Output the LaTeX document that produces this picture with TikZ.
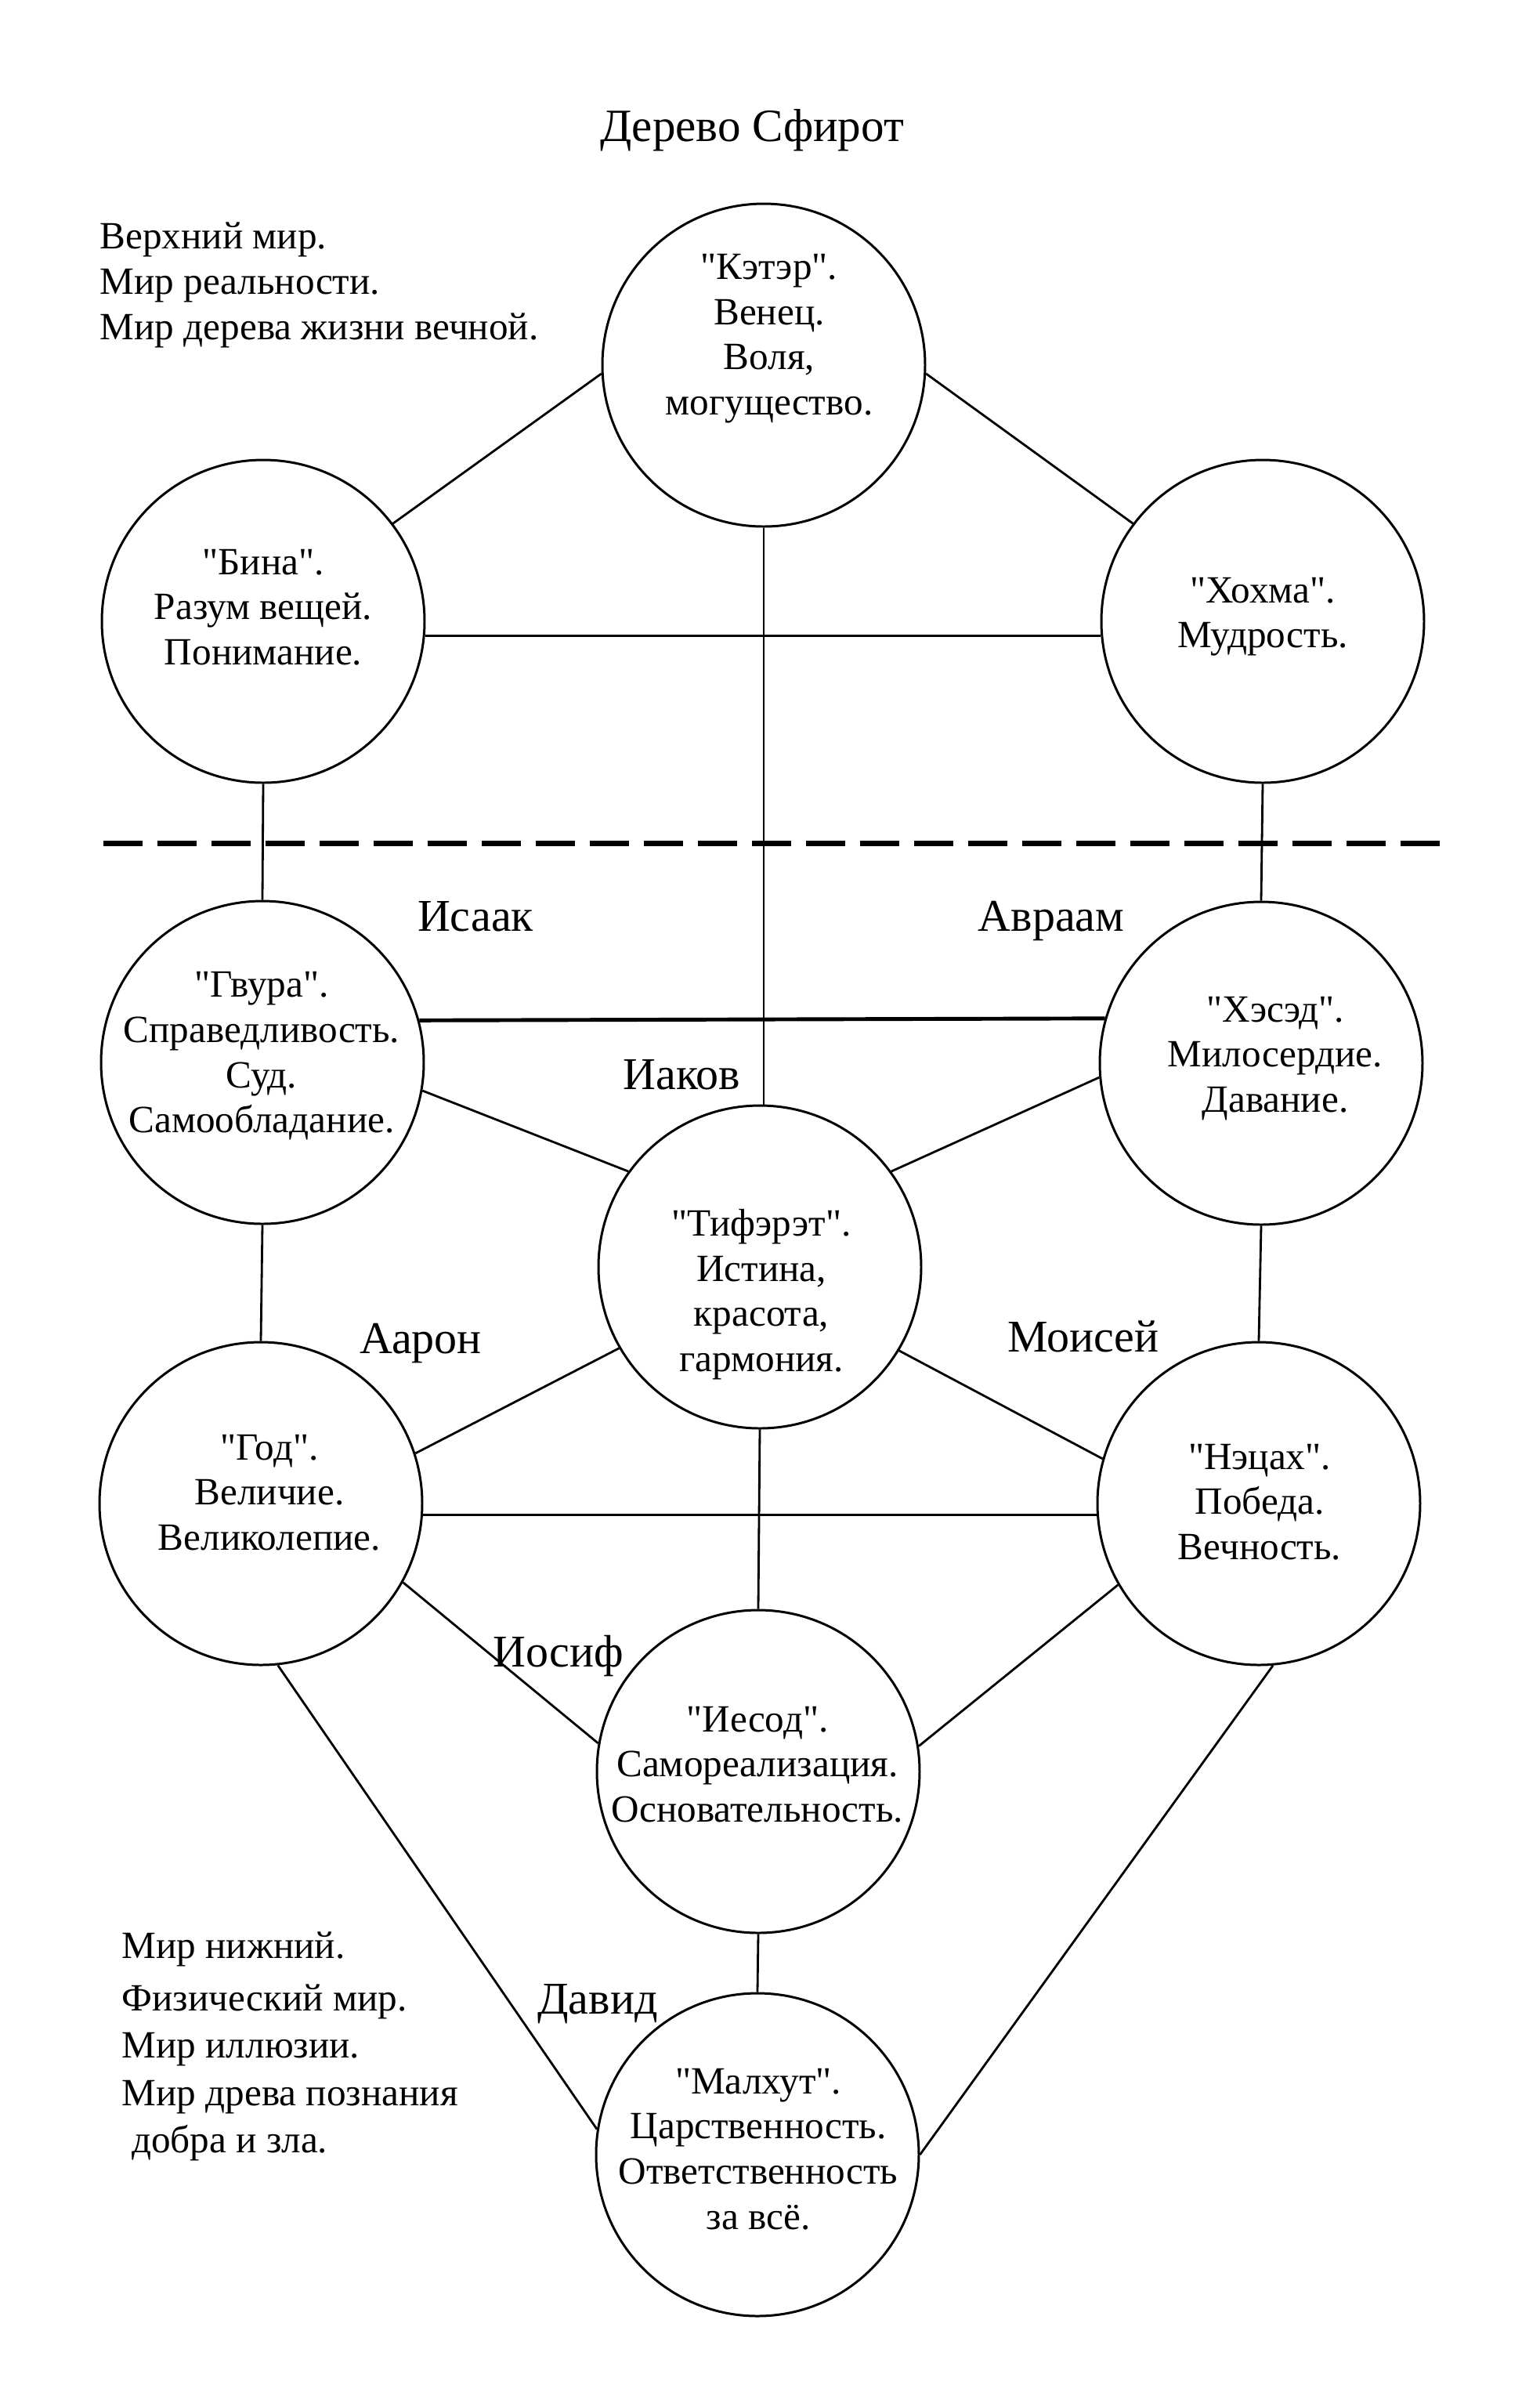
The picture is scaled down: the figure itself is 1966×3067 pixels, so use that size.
\documentclass[tikz,border=0pt]{standalone}
\usepackage{fontspec}
\setmainfont{Liberation Serif}[Ligatures=TeXOff]
\begin{document}
\begin{tikzpicture}[x=0.1mm,y=-0.1mm,
  sef/.style={circle, draw, line width=0.85pt, minimum size=41.2mm, inner sep=0pt},
  txt/.style={align=center, font=\fontsize{14}{16.4}\selectfont, inner sep=0pt},
  lefttxt/.style={align=left, anchor=west, font=\fontsize{14}{16.4}\selectfont, inner sep=0pt},
  pname/.style={font=\fontsize{16.5}{19}\selectfont, anchor=base, inner sep=0pt},
  conn/.style={line width=0.8pt},
  boldconn/.style={line width=1.4pt},
  divider/.style={line width=2pt, dash pattern=on 5mm off 1.9mm}]
\useasboundingbox (0,0) rectangle (1966,3067);

% title and side texts
\node[font=\fontsize{16.8}{20}\selectfont, inner sep=0pt] (title) at (960,166) {Дерево Сфирот};
\node[lefttxt] (upper) at (127,364) {Верхний мир.\\Мир реальности.\\Мир дерева жизни вечной.};
\node[lefttxt, font=\fontsize{14}{17.2}\selectfont] (lower) at (155,2612) {Мир нижний.\\[0.6mm]Физический мир.\\Мир иллюзии.\\Мир древа познания\\\ добра и зла.};

% sefirot circles
\node[sef] (keter)  at (975,466)  {};
\node[sef] (bina)   at (336,793)  {};
\node[sef] (hochma) at (1612,793) {};
\node[sef] (gvura)  at (335,1356) {};
\node[sef] (hesed)  at (1610,1357) {};
\node[sef] (tif)    at (970,1617) {};
\node[sef] (hod)    at (333,1919) {};
\node[sef] (netzah) at (1607,1919) {};
\node[sef] (yesod)  at (968,2261) {};
\node[sef] (malhut) at (967,2750) {};

% circle texts
\node[txt] (keter-t)  at (982,432)  {"Кэтэр".\\Венец.\\Воля,\\могущество.};
\node[txt] (bina-t)   at (336,775)  {"Бина".\\Разум вещей.\\Понимание.};
\node[txt] (hochma-t) at (1612,787) {"Хохма".\\Мудрость.};
\node[txt] (gvura-t)  at (334,1348) {"Гвура".\\Справедливость.\\Суд.\\Самообладание.};
\node[txt] (hesed-t)  at (1628,1351) {"Хэсэд".\\Милосердие.\\Давание.};
\node[txt] (tif-t)    at (972,1652) {"Тифэрэт".\\Истина,\\красота,\\гармония.};
\node[txt] (hod-t)    at (344,1905) {"Год".\\Величие.\\Великолепие.};
\node[txt] (netzah-t) at (1608,1917) {"Нэцах".\\Победа.\\Вечность.};
\node[txt] (yesod-t)  at (967,2252) {"Иесод".\\Самореализация.\\Основательность.};
\node[txt] (malhut-t) at (968,2743) {"Малхут".\\Царственность.\\Ответственность\\за всё.};

% names
\node[pname] (isaak)  at (607,1188)  {Исаак};
\node[pname] (avraam) at (1342,1188) {Авраам};
\node[pname] (iakov)  at (870,1390)  {Иаков};
\node[pname] (aaron)  at (537,1727)  {Аарон};
\node[pname] (moisei) at (1383,1725) {Моисей};
\node[pname] (iosif)  at (713,2127)  {Иосиф};
\node[pname] (david)  at (763,2570)  {Давид};

% divider
\coordinate (dl) at (132,1076);
\coordinate (dr) at (1853,1076);
\draw[divider] (dl) -- (dr);

% connectors
\draw[conn] (keter.183) -- (bina.37);
\draw[conn] (keter.-3) -- (hochma.143);
\draw[conn] (keter.south) -- (keter.south |- tif.north);
\draw[conn] (bina.-5.5) -- (hochma.185.5);
\draw[conn] (bina.south) -- (gvura.north);
\draw[conn] (hochma.south) -- (hesed.north);
\draw[boldconn] (gvura.15.7) -- (hesed.164.3);
\draw[conn] (gvura.-10.8) -- (tif.144);
\draw[conn] (hesed.185) -- (tif.36);
\draw[conn] (tif.210) -- (hod.18.4);
\draw[conn] (tif.-31.7) -- (netzah.164);
\draw[conn] (gvura.south) -- (hod.north);
\draw[conn] (hesed.south) -- (netzah.north);
\draw[line width=1.1pt] (hod.-4.4) -- (netzah.184.4);
\draw[conn] (tif.south) -- (yesod.north);
\draw[conn] (hod.-29.6) -- (yesod.170.4);
\draw[conn] (netzah.210.3) -- (yesod.9.2);
\draw[conn] (yesod.south) -- (malhut.north);
\draw[conn] (hod.-84.2) -- (malhut.171.2);
\draw[conn] (netzah.-85.8) -- (malhut.0);
\end{tikzpicture}
\end{document}
